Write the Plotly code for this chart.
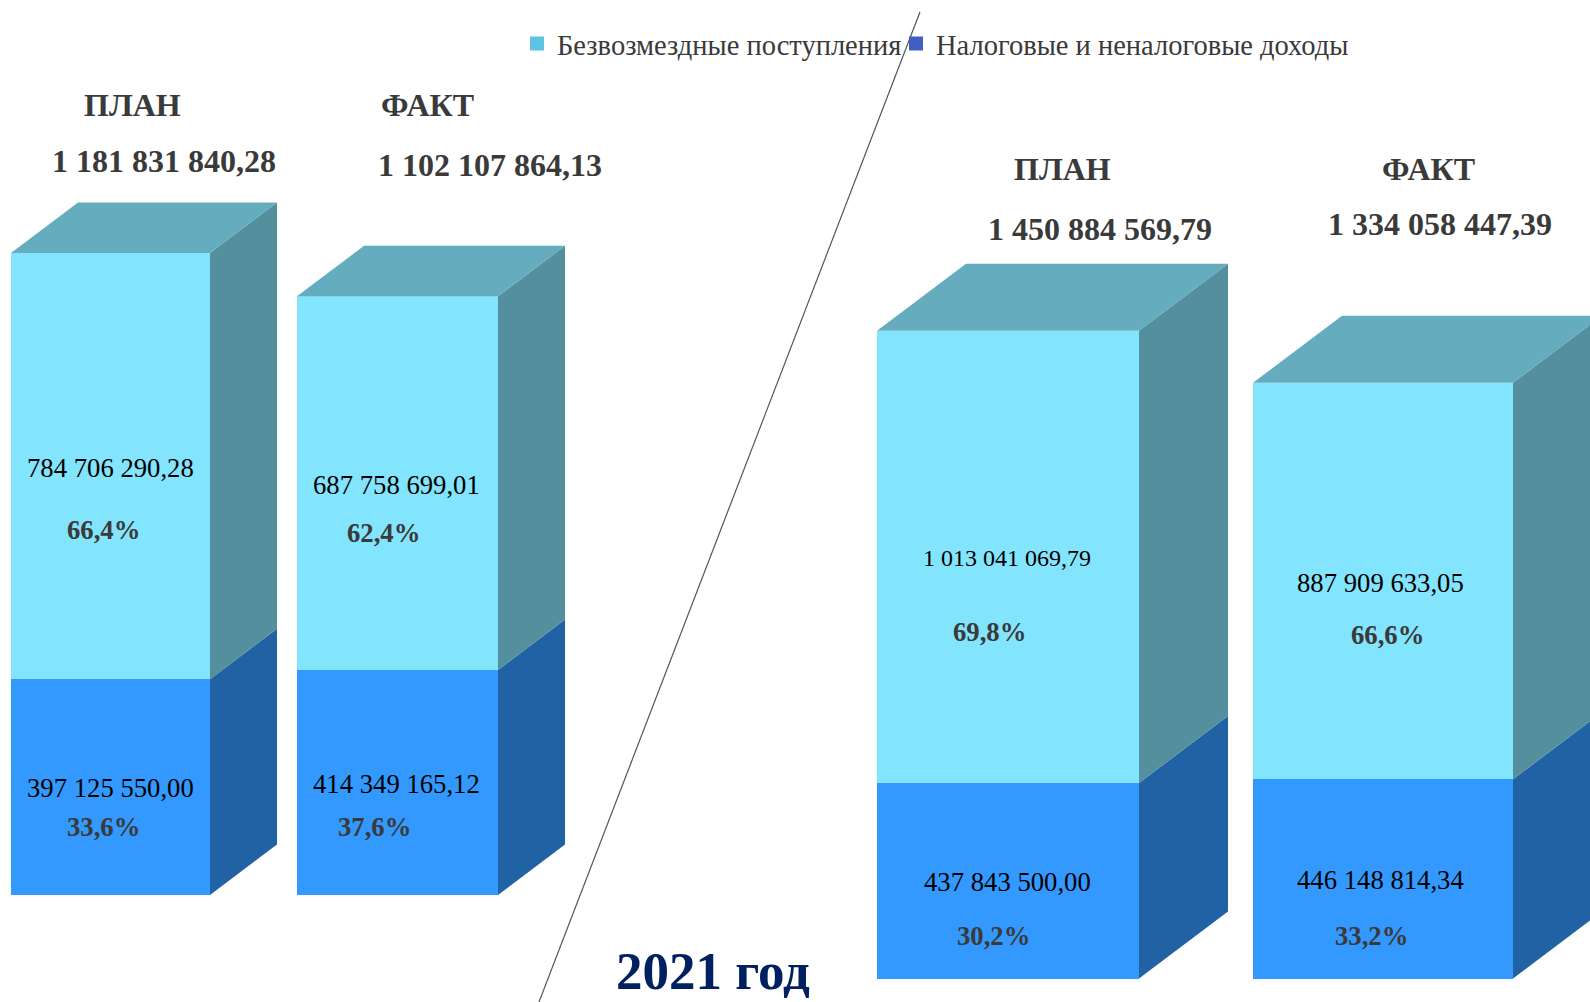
import plotly.graph_objects as go

W, H = 1590, 1002
SERIF = "Liberation Serif"

# ---- data (roubles) ----
scenarios = ["ПЛАН", "ФАКТ"]
left_own = [397125550.00, 414349165.12]
left_grants = [784706290.28, 687758699.01]
left_totals = [1181831840.28, 1102107864.13]
right_own = [437843500.00, 446148814.34]
right_grants = [1013041069.79, 887909633.05]
right_totals = [1450884569.79, 1334058447.39]
left_own_pct = ["33,6%", "37,6%"]
left_grants_pct = ["66,4%", "62,4%"]
right_own_pct = ["30,2%", "33,2%"]
right_grants_pct = ["69,8%", "66,6%"]
series_names = ["Безвозмездные поступления", "Налоговые и неналоговые доходы"]
year_label = "2021 год"

# ---- colours ----
C_LIGHT, C_LIGHT_TOP, C_LIGHT_SIDE = "#83E5FD", "#65ACBE", "#548F9E"
C_BLUE, C_BLUE_SIDE = "#3399FF", "#2062A3"
C_TEXT, C_DARK = "#000000", "#3A3A3A"


def money(v):
    whole, frac = f"{v:.2f}".split(".")
    return f"{int(whole):,}".replace(",", " ") + "," + frac


# ---- panel geometry (layout units on a page-wide x axis) ----
panels = [
    dict(yaxis="y", base_px=895.0, px_per_m=0.5432, x0=[11, 297], x1=[210, 498], dx=67, dy=50.5,
         own=left_own, grants=left_grants, totals=left_totals,
         own_pct=left_own_pct, grants_pct=left_grants_pct,
         head_x=[132, 427], head_y=[105, 105], tot_x=[164, 490], tot_y=[161, 165],
         grant_lab=[(110, 468, 26.7), (396, 485, 26.7)], own_lab=[(110, 788, 26.7), (396, 784, 26.7)],
         gp_lab=[(103, 530), (383, 533)], op_lab=[(103, 827), (374, 827)]),
    dict(yaxis="y2", base_px=978.5, px_per_m=0.4465, x0=[877, 1253], x1=[1139, 1513], dx=89, dy=67,
         own=right_own, grants=right_grants, totals=right_totals,
         own_pct=right_own_pct, grants_pct=right_grants_pct,
         head_x=[1062, 1428], head_y=[169, 169], tot_x=[1100, 1440], tot_y=[229, 224],
         grant_lab=[(1007, 558, 24), (1380, 583, 26.7)], own_lab=[(1007, 882, 26.7), (1380, 880, 26.7)],
         gp_lab=[(989, 632), (1387, 635)], op_lab=[(993, 936), (1371, 936)]),
]

fig = go.Figure()
annotations = []


def note(text, x, y, size, color, bold=False):
    annotations.append(dict(
        text=f"<b>{text}</b>" if bold else text, x=x, y=1 - y / H, xref="x", yref="paper",
        xanchor="center", yanchor="middle", showarrow=False,
        font=dict(family=SERIF, size=size, color=color)))


def face(xs, ys, yaxis, color):
    fig.add_trace(go.Scatter(x=xs, y=ys, yaxis=yaxis, mode="lines", fill="toself", fillcolor=color,
                             line=dict(width=0), hoverinfo="skip", showlegend=False))


for p in panels:
    k = 1e6 / p["px_per_m"]  # roubles per layout pixel
    dy = p["dy"] * k
    ya = p["yaxis"]
    centers = [(a + b) / 2 for a, b in zip(p["x0"], p["x1"])]
    widths = [b - a for a, b in zip(p["x0"], p["x1"])]
    for i in range(2):
        a, b = p["x1"][i], p["x1"][i] + p["dx"]
        own, tot = p["own"][i], p["own"][i] + p["grants"][i]
        face([a, b, b, a, a], [0, dy, own + dy, own, 0], ya, C_BLUE_SIDE)
        face([a, b, b, a, a], [own, own + dy, tot + dy, tot, own], ya, C_LIGHT_SIDE)
        l = p["x0"][i]
        face([l, a, b, l + p["dx"], l], [tot, tot, tot + dy, tot + dy, tot], ya, C_LIGHT_TOP)
    fig.add_trace(go.Bar(x=centers, y=p["own"], width=widths, yaxis=ya, marker=dict(color=C_BLUE, line=dict(width=0)),
                         customdata=scenarios, name=series_names[1], showlegend=False))
    fig.add_trace(go.Bar(x=centers, y=p["grants"], width=widths, yaxis=ya, marker=dict(color=C_LIGHT, line=dict(width=0)),
                         customdata=scenarios, name=series_names[0], showlegend=False))
    for i in range(2):
        note(scenarios[i], p["head_x"][i], p["head_y"][i], 32, C_DARK, True)
        note(money(p["totals"][i]), p["tot_x"][i], p["tot_y"][i], 32, C_DARK, True)
        x, y, s = p["grant_lab"][i]
        note(money(p["grants"][i]), x, y, s, C_TEXT)
        x, y, s = p["own_lab"][i]
        note(money(p["own"][i]), x, y, s, C_TEXT)
        x, y = p["gp_lab"][i]
        note(p["grants_pct"][i], x, y, 26.7, C_DARK, True)
        x, y = p["op_lab"][i]
        note(p["own_pct"][i], x, y, 26.7, C_DARK, True)

note(year_label, 713, 971, 53, "#002060", True)

# legend keys
fig.add_trace(go.Scatter(x=[None], y=[None], mode="markers", name=series_names[0], legend="legend",
                         marker=dict(symbol="square", size=14, color="#5CC3E3")))
fig.add_trace(go.Scatter(x=[None], y=[None], mode="markers", name=series_names[1], legend="legend2",
                         marker=dict(symbol="square", size=14, color="#3F5FC4")))
legend_style = dict(orientation="h", xanchor="left", yanchor="middle", bgcolor="rgba(0,0,0,0)",
                    font=dict(family=SERIF, size=28.5, color=C_DARK), borderwidth=0)


def yrange(p):
    k = 1e6 / p["px_per_m"]
    return [-(H - p["base_px"]) * k, p["base_px"] * k]


fig.update_layout(
    width=W, height=H, margin=dict(l=0, r=0, t=0, b=0),
    paper_bgcolor="#FFFFFF", plot_bgcolor="#FFFFFF", barmode="stack", bargap=0,
    xaxis=dict(range=[0, W], visible=False, fixedrange=True),
    yaxis=dict(range=yrange(panels[0]), visible=False, fixedrange=True),
    yaxis2=dict(range=yrange(panels[1]), visible=False, fixedrange=True, overlaying="y"),
    legend=dict(x=517 / W, y=1 - 44 / H, **legend_style),
    legend2=dict(x=896 / W, y=1 - 44 / H, **legend_style),
    annotations=annotations,
    shapes=[dict(type="line", xref="paper", yref="paper", x0=920 / W, y0=1 - 12 / H, x1=539 / W, y1=0,
                 line=dict(color="#555555", width=1.2))],
)
fig.write_html("out.html", config={"displayModeBar": False},
               post_script="document.body.style.margin='0';window.dispatchEvent(new Event('resize'));")
